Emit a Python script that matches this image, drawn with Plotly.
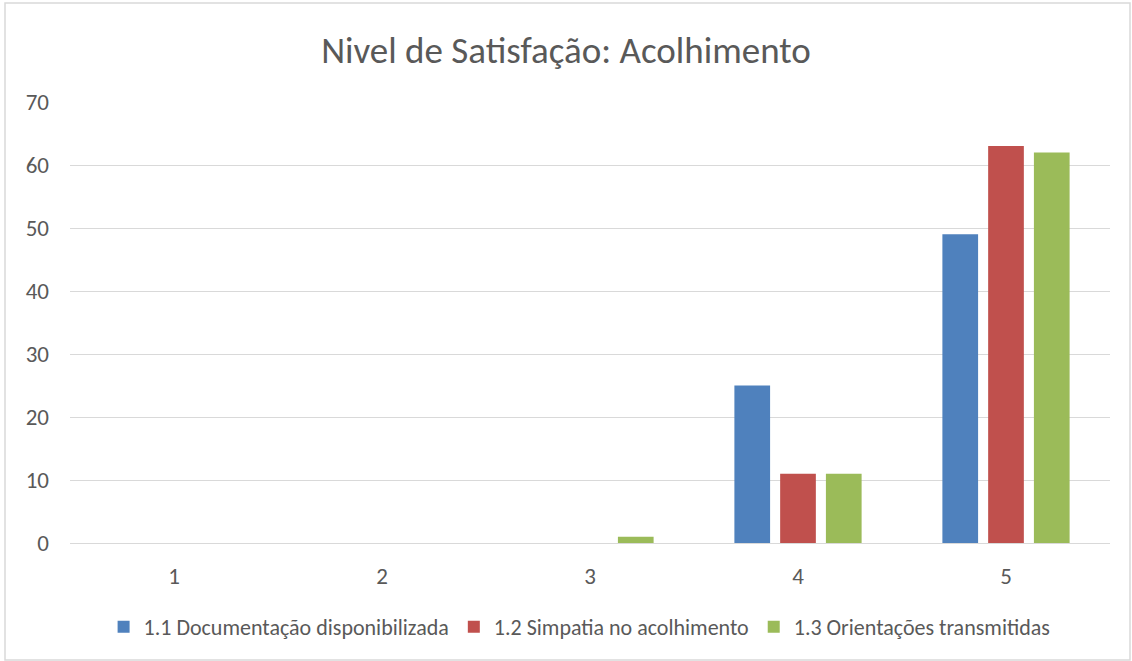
import plotly.graph_objects as go

# data
categorias = ["1", "2", "3", "4", "5"]
documentacao = [0, 0, 0, 25, 49]
simpatia = [0, 0, 0, 11, 63]
orientacoes = [0, 0, 1, 11, 62]

nomes = ["1.1 Documentação disponibilizada",
         "1.2 Simpatia no acolhimento",
         "1.3 Orientações transmitidas"]
cores = ["#4F81BD", "#C0504D", "#9BBB59"]

FONTE = "Calibri, Carlito, Liberation Sans Narrow, Open Sans, sans-serif"
CINZA = "#595959"

W, H = 1132, 661
ml, mr, mt, mb = 70, 22, 102, 118
pw, ph = W - ml - mr, H - mt - mb

fig = go.Figure()
for nome, vals, cor in zip(nomes, [documentacao, simpatia, orientacoes], cores):
    fig.add_trace(go.Bar(x=categorias, y=vals, name=nome, marker_color=cor,
                         marker_line_width=0))

# light frame around the chart area (Excel style)
fig.add_shape(type="rect", xref="paper", yref="paper",
              x0=(5 - ml) / pw, x1=(W - 2 - ml) / pw,
              y0=-(mb - 1) / ph, y1=1 + (mt - 3) / ph,
              line=dict(color="#D9D9D9", width=1.5))

fig.update_layout(
    width=W, height=H,
    margin=dict(l=ml, r=mr, t=mt, b=mb, autoexpand=False),
    paper_bgcolor="white", plot_bgcolor="white",
    font=dict(family=FONTE, color=CINZA, size=23),
    title=dict(text="Nivel de Satisfação: Acolhimento", x=0.5, xanchor="center",
               y=1 - 50 / H, yanchor="middle",
               font=dict(size=37, color=CINZA)),
    barmode="group", bargap=0.34, bargroupgap=0.22,
    legend=dict(orientation="h", x=0.49, xanchor="center", y=-84 / ph, yanchor="middle",
                font=dict(size=22, color=CINZA)),
    showlegend=True,
)
fig.update_xaxes(type="category", showgrid=False, ticks="", tickfont=dict(size=23),
                 showline=True, linecolor="#D9D9D9", linewidth=1,
                 ticklabelstandoff=12, automargin=False)
fig.update_yaxes(range=[0, 70], dtick=10, showgrid=True, gridcolor="#D9D9D9",
                 gridwidth=1, zeroline=False, ticks="", tickfont=dict(size=23),
                 ticklabelstandoff=20, automargin=False)

fig.write_html("out.html", config={"displayModeBar": False},
               post_script="document.body.style.margin='0';")
